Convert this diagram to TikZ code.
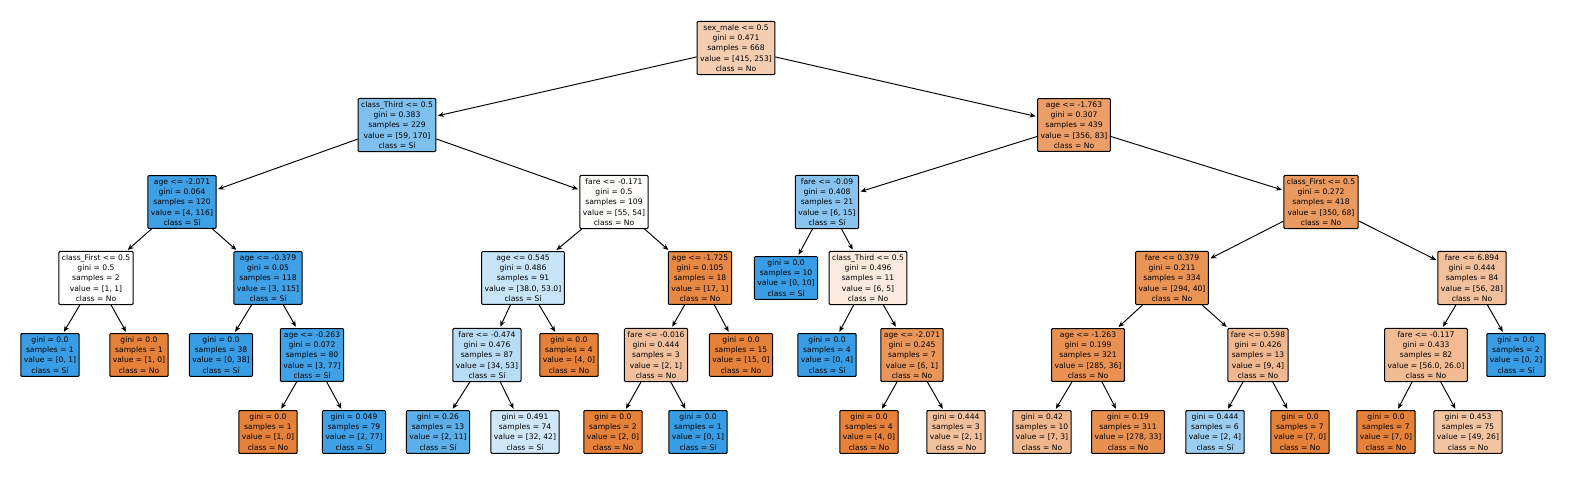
\documentclass[tikz,border=0pt]{standalone}
\usepackage{fontspec}
\setmainfont{DejaVu Sans}
\usetikzlibrary{arrows.meta}
\definecolor{sko}{RGB}{229,129,57}
\definecolor{skb}{RGB}{57,157,229}
\tikzset{
 tn/.style={draw=black, line width=1pt, rounded corners=1pt, align=center, inner sep=3pt, font=\fontsize{7.6}{10.3}\selectfont},
 edge/.style={-{Stealth[length=6pt,width=5pt]}, line width=0.95pt, shorten >=1.5pt}
}
\begin{document}
\begin{tikzpicture}[x=1pt,y=-1pt]
\useasboundingbox (0,0) rectangle (1570,482);
% level 0
\node[tn, fill=sko!39!white] (n0) at (736,48) {sex\_male <= 0.5\\gini = 0.471\\samples = 668\\value = [415, 253]\\class = No};
% level 1
\node[tn, fill=skb!65!white] (n1) at (397,125) {class\_Third <= 0.5\\gini = 0.383\\samples = 229\\value = [59, 170]\\class = Sí};
\node[tn, fill=sko!77!white] (n2) at (1074,125) {age <= -1.763\\gini = 0.307\\samples = 439\\value = [356, 83]\\class = No};
% level 2
\node[tn, fill=skb!97!white] (n3) at (182,202) {age <= -2.071\\gini = 0.064\\samples = 120\\value = [4, 116]\\class = Sí};
\node[tn, fill=sko!2!white] (n4) at (614,202) {fare <= -0.171\\gini = 0.5\\samples = 109\\value = [55, 54]\\class = No};
\node[tn, fill=skb!60!white] (n23) at (827,202) {fare <= -0.09\\gini = 0.408\\samples = 21\\value = [6, 15]\\class = Sí};
\node[tn, fill=sko!81!white] (n24) at (1321,202) {class\_First <= 0.5\\gini = 0.272\\samples = 418\\value = [350, 68]\\class = No};
% level 3
\node[tn, fill=white] (n5) at (96,278) {class\_First <= 0.5\\gini = 0.5\\samples = 2\\value = [1, 1]\\class = No};
\node[tn, fill=skb!97!white] (n6) at (268,278) {age <= -0.379\\gini = 0.05\\samples = 118\\value = [3, 115]\\class = Sí};
\node[tn, fill=skb!28!white] (n13) at (523,278) {age <= 0.545\\gini = 0.486\\samples = 91\\value = [38.0, 53.0]\\class = Sí};
\node[tn, fill=sko!94!white] (n14) at (700,278) {age <= -1.725\\gini = 0.105\\samples = 18\\value = [17, 1]\\class = No};
\node[tn, fill=skb] (n25) at (786,278) {gini = 0.0\\samples = 10\\value = [0, 10]\\class = Sí};
\node[tn, fill=sko!17!white] (n26) at (868,278) {class\_Third <= 0.5\\gini = 0.496\\samples = 11\\value = [6, 5]\\class = No};
\node[tn, fill=sko!86!white] (n31) at (1172,278) {fare <= 0.379\\gini = 0.211\\samples = 334\\value = [294, 40]\\class = No};
\node[tn, fill=sko!50!white] (n32) at (1472,278) {fare <= 6.894\\gini = 0.444\\samples = 84\\value = [56, 28]\\class = No};
% level 4
\node[tn, fill=skb] (n7) at (50,355) {gini = 0.0\\samples = 1\\value = [0, 1]\\class = Sí};
\node[tn, fill=sko] (n8) at (139,355) {gini = 0.0\\samples = 1\\value = [1, 0]\\class = No};
\node[tn, fill=skb] (n9) at (221,355) {gini = 0.0\\samples = 38\\value = [0, 38]\\class = Sí};
\node[tn, fill=skb!96!white] (n10) at (312,355) {age <= -0.263\\gini = 0.072\\samples = 80\\value = [3, 77]\\class = Sí};
\node[tn, fill=skb!36!white] (n15) at (487,355) {fare <= -0.474\\gini = 0.476\\samples = 87\\value = [34, 53]\\class = Sí};
\node[tn, fill=sko] (n16) at (569,355) {gini = 0.0\\samples = 4\\value = [4, 0]\\class = No};
\node[tn, fill=sko!50!white] (n19) at (656,355) {fare <= -0.016\\gini = 0.444\\samples = 3\\value = [2, 1]\\class = No};
\node[tn, fill=sko] (n20) at (741,355) {gini = 0.0\\samples = 15\\value = [15, 0]\\class = No};
\node[tn, fill=skb] (n27) at (827,355) {gini = 0.0\\samples = 4\\value = [0, 4]\\class = Sí};
\node[tn, fill=sko!83!white] (n28) at (912,355) {age <= -2.071\\gini = 0.245\\samples = 7\\value = [6, 1]\\class = No};
\node[tn, fill=sko!87!white] (n33) at (1088,355) {age <= -1.263\\gini = 0.199\\samples = 321\\value = [285, 36]\\class = No};
\node[tn, fill=sko!56!white] (n34) at (1258,355) {fare <= 0.598\\gini = 0.426\\samples = 13\\value = [9, 4]\\class = No};
\node[tn, fill=sko!54!white] (n39) at (1426,355) {fare <= -0.117\\gini = 0.433\\samples = 82\\value = [56.0, 26.0]\\class = No};
\node[tn, fill=skb] (n40) at (1516,355) {gini = 0.0\\samples = 2\\value = [0, 2]\\class = Sí};
% level 5
\node[tn, fill=sko] (n11) at (268,432) {gini = 0.0\\samples = 1\\value = [1, 0]\\class = No};
\node[tn, fill=skb!97!white] (n12) at (354,432) {gini = 0.049\\samples = 79\\value = [2, 77]\\class = Sí};
\node[tn, fill=skb!82!white] (n17) at (438,432) {gini = 0.26\\samples = 13\\value = [2, 11]\\class = Sí};
\node[tn, fill=skb!24!white] (n18) at (525,432) {gini = 0.491\\samples = 74\\value = [32, 42]\\class = Sí};
\node[tn, fill=sko] (n21) at (613,432) {gini = 0.0\\samples = 2\\value = [2, 0]\\class = No};
\node[tn, fill=skb] (n22) at (698,432) {gini = 0.0\\samples = 1\\value = [0, 1]\\class = Sí};
\node[tn, fill=sko] (n29) at (869,432) {gini = 0.0\\samples = 4\\value = [4, 0]\\class = No};
\node[tn, fill=sko!50!white] (n30) at (956,432) {gini = 0.444\\samples = 3\\value = [2, 1]\\class = No};
\node[tn, fill=sko!57!white] (n35) at (1042,432) {gini = 0.42\\samples = 10\\value = [7, 3]\\class = No};
\node[tn, fill=sko!88!white] (n36) at (1128,432) {gini = 0.19\\samples = 311\\value = [278, 33]\\class = No};
\node[tn, fill=skb!50!white] (n37) at (1215,432) {gini = 0.444\\samples = 6\\value = [2, 4]\\class = Sí};
\node[tn, fill=sko] (n38) at (1300,432) {gini = 0.0\\samples = 7\\value = [7, 0]\\class = No};
\node[tn, fill=sko] (n41) at (1386,432) {gini = 0.0\\samples = 7\\value = [7, 0]\\class = No};
\node[tn, fill=sko!47!white] (n42) at (1468,432) {gini = 0.453\\samples = 75\\value = [49, 26]\\class = No};
% edges
\foreach \a/\b in {n0/n1,n0/n2,n1/n3,n1/n4,n3/n5,n3/n6,n5/n7,n5/n8,n6/n9,n6/n10,n10/n11,n10/n12,
  n4/n13,n4/n14,n13/n15,n13/n16,n15/n17,n15/n18,n14/n19,n14/n20,n19/n21,n19/n22,
  n2/n23,n2/n24,n23/n25,n23/n26,n26/n27,n26/n28,n28/n29,n28/n30,
  n24/n31,n24/n32,n31/n33,n31/n34,n33/n35,n33/n36,n34/n37,n34/n38,n32/n39,n32/n40,n39/n41,n39/n42}
  \draw[edge] (\a) -- (\b);
\end{tikzpicture}
\end{document}
